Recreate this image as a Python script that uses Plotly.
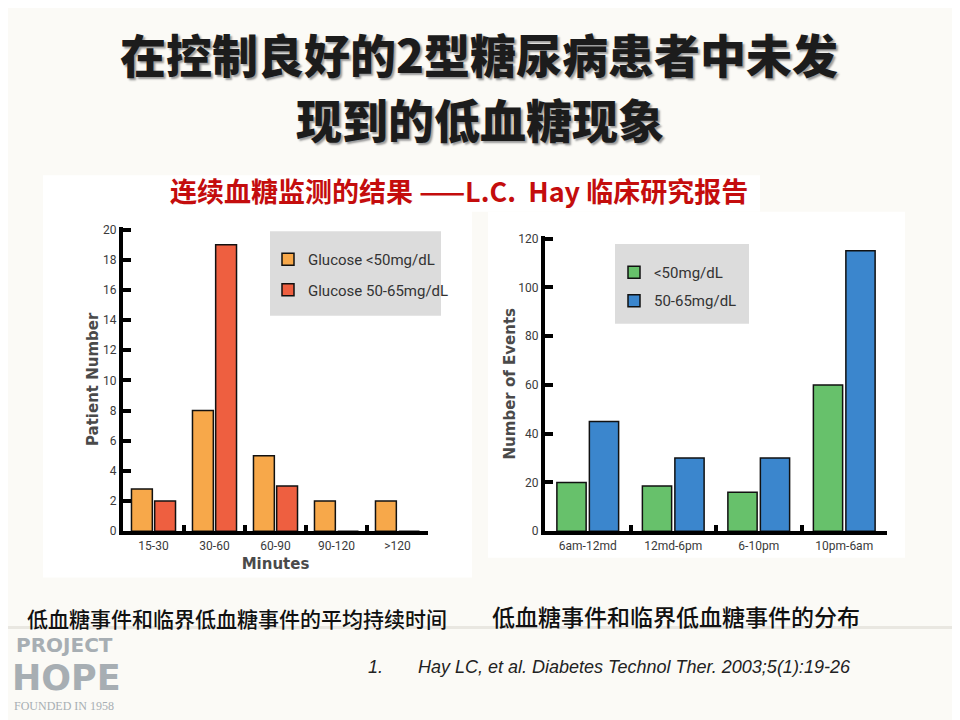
import plotly.graph_objects as go

# page is 960 x 720, positions below are in pixels of the reference,
# converted to paper coords (the page body adds an 8px offset)
W, H = 960, 720
OFF = 8

# left chart - duration of hypoglycaemic events
duration_cats = ['15-30', '30-60', '60-90', '90-120', '>120']
glucose_lt50 = [2.8, 8, 5, 2, 2]
glucose_50_65 = [2, 19, 3, 0, 0]

# right chart - distribution of events over the day
period_cats = ['6am-12md', '12md-6pm', '6-10pm', '10pm-6am']
events_lt50 = [20, 18.5, 16, 60]
events_50_65 = [45, 30, 30, 115]

title_lines = ['在控制良好的2型糖尿病患者中未发', '现到的低血糖现象']
subtitle = '连续血糖监测的结果 ——L.C.  Hay 临床研究报告'
caption_left = '低血糖事件和临界低血糖事件的平均持续时间'
caption_right = '低血糖事件和临界低血糖事件的分布'
reference = 'Hay LC, et al. Diabetes Technol Ther. 2003;5(1):19-26'


def px(x):
    return (x - OFF) / W


def py(y):
    return 1 - (y - OFF) / H


narrow = 'Liberation Sans Narrow, Roboto, sans-serif'
cjk = 'Noto Sans CJK SC'
bar_line = dict(color='#111111', width=1.5)

data = [
    go.Bar(x=duration_cats, y=glucose_lt50, name='Glucose <50mg/dL',
           marker=dict(color='#f7a84a', line=bar_line), legendgroup='a',
           xaxis='x', yaxis='y', legend='legend'),
    go.Bar(x=duration_cats, y=glucose_50_65, name='Glucose 50-65mg/dL',
           marker=dict(color='#ee5f40', line=bar_line), legendgroup='b',
           xaxis='x', yaxis='y', legend='legend'),
    go.Bar(x=period_cats, y=events_lt50, name='<50mg/dL',
           marker=dict(color='#67c16b', line=bar_line), legendgroup='c',
           xaxis='x2', yaxis='y2', legend='legend2'),
    go.Bar(x=period_cats, y=events_50_65, name='50-65mg/dL',
           marker=dict(color='#3b86cd', line=bar_line), legendgroup='d',
           xaxis='x2', yaxis='y2', legend='legend2'),
]

tick_font = dict(family=narrow, size=12, color='#3a3a3a')
title_font = dict(family='DejaVu Sans', size=15, color='#4a4a4a', weight='bold')

xaxis_style = dict(showline=True, linecolor='black', linewidth=4,
                   ticks='inside', tickson='boundaries', ticklen=6,
                   tickwidth=4, tickcolor='black', showgrid=False,
                   tickfont=tick_font, title_font=title_font)
yaxis_style = dict(showline=True, linecolor='black', linewidth=4,
                   ticks='inside', ticklen=8, tickwidth=4, tickcolor='black',
                   showgrid=False, zeroline=False, tickfont=tick_font,
                   title_font=title_font)
legend_font = dict(family=narrow, size=15, color='#333')

layout = go.Layout(
    width=W, height=H,
    margin=dict(l=0, r=0, t=0, b=0),
    paper_bgcolor='#fbfaf6',
    plot_bgcolor='white',
    barmode='group', bargap=0.24, bargroupgap=0.1,
    xaxis=dict(domain=[px(123), px(428)], anchor='y',
               title=dict(text='Minutes', standoff=8), **xaxis_style),
    yaxis=dict(domain=[py(535), py(226)], anchor='x', range=[0, 20.15],
               dtick=2, title=dict(text='Patient Number', standoff=2),
               **yaxis_style),
    xaxis2=dict(domain=[px(545), px(887)], anchor='y2', **xaxis_style),
    yaxis2=dict(domain=[py(535), py(235)], anchor='x2', range=[0, 121],
                dtick=20, title=dict(text='Number of Events', standoff=0),
                **yaxis_style),
    legend=dict(x=px(268), y=py(242), xanchor='left', yanchor='top',
                bgcolor='rgba(0,0,0,0)', font=legend_font, tracegroupgap=8),
    legend2=dict(x=px(614), y=py(255), xanchor='left', yanchor='top',
                 bgcolor='rgba(0,0,0,0)', font=legend_font, tracegroupgap=6),
    showlegend=True,
)

fig = go.Figure(data=data, layout=layout)

# white panels behind the charts
panels = [(43, 173, 472, 582), (472, 173, 760, 210), (488, 210, 905, 562)]
for x0, y0, x1, y1 in panels:
    fig.add_shape(type='rect', xref='paper', yref='paper', layer='below',
                  x0=px(x0), x1=px(x1), y0=py(y1), y1=py(y0),
                  fillcolor='white', line=dict(width=0))

# grey legend boxes
for x0, y0, x1, y1 in [(270, 230, 441, 316), (615, 243, 749, 324)]:
    fig.add_shape(type='rect', xref='paper', yref='paper', layer='below',
                  x0=px(x0), x1=px(x1), y0=py(y1), y1=py(y0),
                  fillcolor='#dcdcdc', line=dict(width=0))

# faint separator band
fig.add_shape(type='line', xref='paper', yref='paper', x0=0, x1=1,
              y0=py(633), y1=py(633), line=dict(color='#e9e7e1', width=3))


def note(text, x, y, font, xanchor='center'):
    fig.add_annotation(text=text, x=px(x), y=py(y), xref='paper', yref='paper',
                       xanchor=xanchor, yanchor='middle', showarrow=False,
                       font=font)


# titles
title_font_big = dict(family=cjk, size=46, color='#1c1c1c', weight=900,
                      shadow='2px 2px 2px #9a9a9a')
note(title_lines[0], 479, 49, title_font_big)
note(title_lines[1], 480, 115, title_font_big)
note(subtitle, 459, 188, dict(family=cjk, size=27, color='#c40d0d', weight='bold'))

# captions under the charts
note(caption_left, 237, 623, dict(family=cjk, size=21, color='#111', weight=500))
note(caption_right, 676, 621, dict(family=cjk, size=23, color='#111', weight=500))

# reference
ref_font = dict(family='Liberation Sans', size=18, color='#222', style='italic')
note('1.', 366, 673, ref_font, xanchor='left')
note(reference, 416, 673, ref_font, xanchor='left')

# Project HOPE logo, grey
logo = '#a7aeb3'
note('PROJECT', 64, 651, dict(family='DejaVu Sans', size=20, color=logo, weight='bold'))
note('HOPE', 66, 684, dict(family='DejaVu Sans', size=35, color=logo, weight=900))
note('FOUNDED IN 1958', 64, 713, dict(family='Liberation Serif', size=12, color=logo))

fig.write_html('out.html')
